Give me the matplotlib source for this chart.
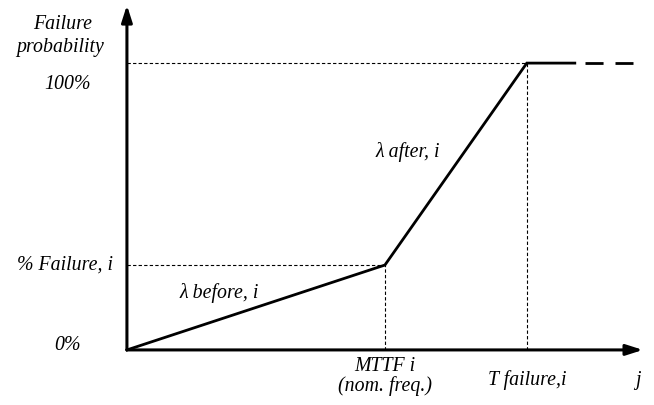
import matplotlib.pyplot as plt

plt.rcParams['font.family'] = ['Liberation Serif', 'DejaVu Serif']

# curve points: time (MTTF = 1) vs failure probability (%)
x_pts = [0.0, 1.0, 1.55]
y_pts = [0.0, 29.6, 100.0]
x_flat_end = 1.736        # end of the solid plateau
x_dash = [1.775, 1.961]   # dashed continuation
pct_failure = y_pts[1]

y_labels = ["0%", "% Failure, i", "100%"]
x_labels = ["MTTF i", "(nom. freq.)", "T failure,i"]

fig = plt.figure(figsize=(6.54, 4.05), dpi=100)
ax = fig.add_axes([0, 0, 1, 1])
ax.set_xlim(-0.492, 2.043)
ax.set_ylim(-19.2, 122.0)
ax.axis("off")

fs = 14.3
txt = dict(style="italic", fontsize=fs, ha="center", va="center")

# axes with arrowheads
head = dict(arrowstyle="-|>,head_length=1.0,head_width=0.32",
            color="black", lw=2.2, shrinkA=0, shrinkB=0)
ax.annotate("", xy=(0, 120.2), xytext=(0, 0), arrowprops=head)
ax.annotate("", xy=(2.0, 0), xytext=(0, 0), arrowprops=head)

# guide lines
guide = dict(ls=(0, (3, 2)), color="black", lw=0.8)
ax.plot([0, x_pts[1]], [pct_failure, pct_failure], **guide)
ax.plot([x_pts[1], x_pts[1]], [0, pct_failure], **guide)
ax.plot([0, x_pts[2]], [100, 100], **guide)
ax.plot([x_pts[2], x_pts[2]], [0, 100], **guide)

# the failure curve
ax.plot(x_pts + [x_flat_end], y_pts + [100], color="black", lw=2.0,
        solid_joinstyle="miter")
ax.plot(x_dash, [100, 100], color="black", lw=2.0, ls=(0, (6.5, 4.3)),
        dash_capstyle="butt")

# labels
ax.text(-0.25, 113.5, "Failure", **txt)
ax.text(-0.26, 105.5, "probability", **txt)
ax.text(-0.23, 92.7, y_labels[2], **txt)
ax.text(-0.054, pct_failure, y_labels[1], style="italic", fontsize=fs,
        ha="right", va="center")
ax.text(-0.23, 1.4, y_labels[0], **txt)

ax.text(0.357, 19.9, "λ before, i", **txt)
ax.text(1.09, 69.0, "λ after, i", **txt)

ax.text(x_pts[1], -5.8, x_labels[0], **txt)
ax.text(x_pts[1], -12.6, x_labels[1], **txt)
ax.text(x_pts[2], -10.5, x_labels[2], **txt)
ax.text(1.98, -10.5, "j", **txt)

fig.savefig("out.png", dpi=100)
